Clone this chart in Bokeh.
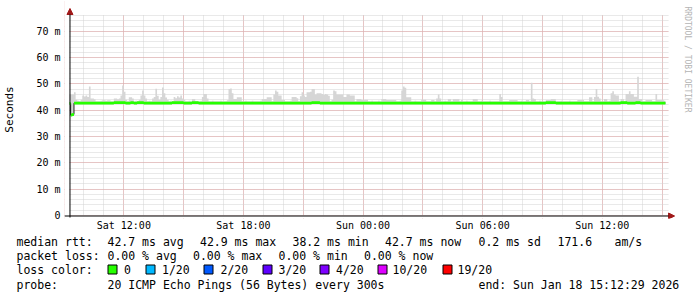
from bokeh.plotting import figure
from bokeh.layouts import column
from bokeh.models import Range1d, FixedTicker, Label, Arrow, NormalHead, BoxAnnotation
from bokeh.core.properties import value
from bokeh.embed import file_html
from bokeh.resources import INLINE
import math

# ---------------- data ----------------
# 5-minute steps, first step starts Sat 09:15 (hours counted from Sat 00:00)
first_step_hour = 9.25
step_hours = 5.0 / 60.0

# median rtt per step (ms)
median_ms = [
    42.6, 38.2, 38.4, 42.7, 42.7, 42.7, 42.7, 42.7, 42.7, 42.7, 42.7, 42.7,
    42.7, 42.7, 42.7, 42.7, 42.7, 42.7, 42.7, 42.7, 42.7, 42.7, 42.7, 42.7,
    42.7, 42.7, 42.7, 42.9, 42.9, 42.9, 42.9, 42.9, 42.9, 42.9, 42.7, 42.7,
    42.7, 42.9, 42.9, 42.7, 42.7, 42.9, 42.9, 42.9, 42.9, 42.7, 42.7, 42.7,
    42.7, 42.7, 42.7, 42.7, 42.7, 42.7, 42.7, 42.7, 42.7, 42.7, 42.7, 42.7,
    42.7, 42.7, 42.9, 42.9, 42.9, 42.9, 42.9, 42.9, 42.9, 42.7, 42.7, 42.7,
    42.7, 42.7, 42.9, 42.9, 42.9, 42.9, 42.7, 42.7, 42.7, 42.7, 42.7, 42.7,
    42.7, 42.7, 42.7, 42.7, 42.7, 42.7, 42.7, 42.7, 42.7, 42.7, 42.7, 42.7,
    42.7, 42.7, 42.7, 42.7, 42.7, 42.7, 42.7, 42.7, 42.7, 42.7, 42.7, 42.7,
    42.7, 42.7, 42.7, 42.7, 42.7, 42.7, 42.7, 42.7, 42.7, 42.7, 42.7, 42.7,
    42.7, 42.7, 42.7, 42.7, 42.7, 42.7, 42.7, 42.7, 42.7, 42.7, 42.7, 42.7,
    42.7, 42.7, 42.7, 42.7, 42.7, 42.7, 42.7, 42.7, 42.7, 42.7, 42.7, 42.7,
    42.7, 42.7, 42.9, 42.9, 42.9, 42.9, 42.9, 42.7, 42.7, 42.7, 42.7, 42.7,
    42.7, 42.7, 42.7, 42.7, 42.7, 42.7, 42.7, 42.7, 42.7, 42.7, 42.7, 42.7,
    42.7, 42.7, 42.7, 42.7, 42.7, 42.7, 42.7, 42.7, 42.7, 42.7, 42.7, 42.7,
    42.7, 42.7, 42.7, 42.7, 42.7, 42.7, 42.7, 42.7, 42.7, 42.7, 42.7, 42.7,
    42.7, 42.7, 42.7, 42.7, 42.7, 42.7, 42.7, 42.7, 42.7, 42.7, 42.7, 42.7,
    42.7, 42.7, 42.7, 42.7, 42.7, 42.7, 42.7, 42.7, 42.7, 42.7, 42.7, 42.7,
    42.7, 42.7, 42.7, 42.7, 42.7, 42.7, 42.7, 42.7, 42.7, 42.7, 42.7, 42.7,
    42.7, 42.7, 42.7, 42.7, 42.7, 42.7, 42.7, 42.7, 42.7, 42.7, 42.7, 42.7,
    42.7, 42.7, 42.7, 42.7, 42.7, 42.7, 42.7, 42.7, 42.7, 42.7, 42.7, 42.7,
    42.7, 42.7, 42.7, 42.7, 42.7, 42.7, 42.7, 42.7, 42.7, 42.7, 42.7, 42.7,
    42.7, 42.7, 42.7, 42.7, 42.7, 42.7, 42.7, 42.7, 42.7, 42.7, 42.7, 42.7,
    42.7, 42.7, 42.7, 42.7, 42.7, 42.7, 42.7, 42.7, 42.7, 42.7, 42.7, 42.9,
    42.9, 42.9, 42.9, 42.9, 42.9, 42.7, 42.7, 42.7, 42.7, 42.7, 42.7, 42.7,
    42.7, 42.7, 42.7, 42.7, 42.7, 42.7, 42.7, 42.7, 42.7, 42.7, 42.7, 42.7,
    42.7, 42.7, 42.7, 42.7, 42.7, 42.7, 42.7, 42.7, 42.7, 42.7, 42.7, 42.7,
    42.7, 42.7, 42.7, 42.7, 42.7, 42.7, 42.7, 42.7, 42.9, 42.9, 42.9, 42.9,
    42.7, 42.7, 42.7, 42.7, 42.7, 42.9, 42.9, 42.9, 42.7, 42.7, 42.7, 42.7,
    42.7, 42.7, 42.7, 42.7, 42.7, 42.7, 42.7, 42.7, 42.7, 42.7, 42.7,
]

# upper edge of the ping "smoke" per step (ms)
smoke_top_ms = [
    46.0, 46.0, 46.0, 46.8, 44.0, 43.6, 43.4, 44.0, 45.6, 45.2, 45.6, 45.0,
    49.0, 44.5, 44.5, 44.2, 43.4, 43.4, 43.4, 43.6, 43.8, 43.8, 43.6, 43.8,
    43.8, 43.4, 43.4, 44.5, 44.5, 44.2, 44.5, 45.6, 49.4, 47.0, 44.0, 43.4,
    44.9, 44.9, 44.5, 43.4, 43.6, 43.4, 44.0, 45.6, 47.5, 45.6, 44.5, 43.4,
    43.6, 43.4, 44.5, 45.0, 48.2, 45.5, 44.0, 45.0, 48.6, 46.5, 44.8, 44.0,
    43.4, 43.6, 43.4, 45.0, 44.6, 45.3, 44.8, 45.6, 44.5, 44.0, 43.4, 43.4,
    43.6, 43.4, 44.3, 44.3, 43.4, 43.4, 43.4, 43.6, 45.0, 46.2, 46.2, 44.5,
    43.4, 43.4, 43.6, 43.4, 43.4, 43.4, 43.4, 43.6, 43.4, 43.4, 43.4, 43.8,
    48.1, 48.3, 46.5, 44.3, 44.3, 44.9, 44.9, 44.9, 43.4, 43.4, 43.6, 43.4,
    43.4, 43.4, 43.6, 43.4, 43.4, 43.4, 43.4, 43.6, 44.3, 44.3, 44.3, 44.9,
    44.9, 44.9, 43.4, 46.0, 47.5, 47.0, 45.6, 45.6, 43.9, 43.9, 43.4, 43.4,
    43.4, 43.6, 45.0, 45.0, 45.0, 44.6, 43.4, 45.3, 46.8, 45.6, 45.0, 46.8,
    46.8, 47.0, 48.1, 48.1, 46.0, 46.5, 46.5, 46.5, 46.2, 45.8, 46.2, 46.0,
    45.5, 43.4, 44.0, 47.5, 47.2, 46.0, 46.0, 46.0, 46.0, 45.0, 45.0, 46.0,
    46.0, 45.6, 45.6, 45.6, 43.4, 44.3, 44.3, 44.3, 43.9, 43.9, 44.0, 44.0,
    43.4, 43.4, 43.6, 43.4, 43.4, 43.4, 43.6, 43.4, 44.3, 44.3, 44.3, 43.9,
    43.9, 43.9, 43.9, 43.9, 43.9, 43.4, 43.4, 43.6, 47.5, 49.0, 48.5, 44.9,
    44.9, 44.9, 43.4, 43.4, 43.6, 43.4, 43.4, 43.4, 44.0, 44.0, 44.0, 43.4,
    43.4, 43.4, 43.9, 43.9, 43.4, 44.5, 46.0, 44.5, 43.4, 43.4, 43.6, 43.4,
    44.3, 44.3, 43.4, 44.3, 44.3, 44.3, 44.3, 43.4, 43.9, 43.4, 43.4, 43.6,
    43.4, 43.4, 43.4, 44.3, 44.3, 44.3, 43.4, 43.4, 43.6, 43.4, 43.4, 43.4,
    43.4, 43.6, 43.4, 43.4, 43.4, 43.4, 43.4, 46.2, 45.0, 43.4, 43.4, 43.4,
    43.4, 43.9, 43.9, 43.9, 43.9, 43.9, 43.4, 43.4, 43.6, 43.4, 43.4, 43.9,
    43.9, 43.4, 50.4, 44.5, 44.3, 43.4, 43.4, 43.6, 43.4, 43.4, 43.4, 43.9,
    43.9, 43.9, 44.3, 44.3, 44.3, 43.4, 43.4, 43.4, 43.6, 43.4, 43.4, 43.4,
    43.4, 43.6, 43.4, 43.4, 43.4, 43.4, 43.9, 43.9, 43.9, 43.9, 43.4, 43.4,
    43.4, 44.9, 44.9, 43.4, 45.0, 48.1, 45.1, 44.5, 43.4, 43.4, 44.3, 44.3,
    43.4, 43.6, 46.5, 47.2, 46.0, 45.6, 45.6, 43.4, 44.3, 44.3, 43.4, 46.2,
    46.2, 47.2, 46.2, 46.2, 45.1, 45.1, 52.7, 44.3, 44.3, 43.4, 43.4, 43.9,
    43.9, 43.9, 43.9, 43.4, 43.4, 46.2, 43.9, 43.9, 43.9, 43.9, 43.6,
]

y_tick_values = [0, 10, 20, 30, 40, 50, 60, 70]
y_tick_labels = ["0", "10 m", "20 m", "30 m", "40 m", "50 m", "60 m", "70 m"]
x_tick_hours = [12, 18, 24, 30, 36]
x_tick_labels = ["Sat 12:00", "Sat 18:00", "Sun 00:00", "Sun 06:00", "Sun 12:00"]

legend_row1 = ["median rtt:", "42.7 ms avg", "42.9 ms max", "38.2 ms min",
               "42.7 ms now", "0.2 ms sd", "171.6", "am/s"]
legend_row2 = ["packet loss:", "0.00 % avg", "0.00 % max", "0.00 % min", "0.00 % now"]
legend_row3_title = "loss color:"
loss_labels = ["0", "1/20", "2/20", "3/20", "4/20", "10/20", "19/20"]
loss_colors = ["#26ff00", "#00b8ff", "#0059ff", "#5e00ff", "#7e00ff", "#dd00ff", "#ff0000"]
legend_row4 = ["probe:", "20 ICMP Echo Pings (56 Bytes) every 300s",
               "end: Sun Jan 18 15:12:29 2026"]
y_title = "Seconds"
watermark = "RRDTOOL / TOBI OETIKER"

# ---------------- geometry / style ----------------
MONO = "DejaVu Sans Mono"
W = 697
MAIN_H = 234           # chart part
LEG_H = 297 - MAIN_H   # legend part
PLOT_L, PLOT_R, PLOT_T, PLOT_B = 67, 667, 15, 215   # plot area in page pixels
FRAME_L, FRAME_T, FRAME_B = 62, 0, 218               # bokeh frame (right = page edge)
PX_PER_H = 20.0
PX_PER_MS = 200.0 / 76.0
X_PLOT_START = 9.275     # Sat ~09:17 (hours from Sat 00:00)


def dx(px):
    return X_PLOT_START + (px - PLOT_L) / PX_PER_H


def dy(py):
    return (PLOT_B - py) / PX_PER_MS


n = len(median_ms)
xs = [first_step_hour + i * step_hours for i in range(n + 1)]
med_ext = median_ms + [median_ms[-1]]
smoke_ext = smoke_top_ms + [smoke_top_ms[-1]]
band_half = 0.55
band_lo = [m - band_half for m in med_ext]
band_hi = [m + band_half for m in med_ext]

chart = figure(width=W, height=MAIN_H, output_backend="svg", toolbar_location=None,
               x_range=Range1d(dx(FRAME_L), dx(W)), y_range=Range1d(dy(FRAME_B), dy(FRAME_T)),
               min_border_left=FRAME_L, min_border_right=0, min_border_top=FRAME_T,
               min_border_bottom=MAIN_H - FRAME_B)
chart.background_fill_color = "white"
chart.border_fill_color = "white"
chart.outline_line_color = None

# grids: minor every 2 ms / 1 h (grey), major every 10 ms / 3 h (red)
chart.xgrid.ticker = FixedTicker(ticks=list(range(9, 40, 3)), minor_ticks=list(range(10, 40)))
chart.ygrid.ticker = FixedTicker(ticks=list(range(0, 71, 10)), minor_ticks=list(range(0, 77, 2)))
for g in (chart.xgrid[0], chart.ygrid[0]):
    g.grid_line_color = "#e2a0a0"
    g.grid_line_dash = "1 1"
    g.grid_line_width = 1
    g.minor_grid_line_color = "#d2d2d2"
    g.minor_grid_line_dash = "1 1"
    g.minor_grid_line_width = 1

# axes (tick labels only; axis lines drawn below with arrow heads)
chart.xaxis.ticker = FixedTicker(ticks=x_tick_hours)
chart.xaxis.major_label_overrides = {h: l for h, l in zip(x_tick_hours, x_tick_labels)}
chart.yaxis.ticker = FixedTicker(ticks=y_tick_values)
chart.yaxis.major_label_overrides = {v: l for v, l in zip(y_tick_values, y_tick_labels)}
for ax in (chart.xaxis[0], chart.yaxis[0]):
    ax.axis_line_color = None
    ax.major_tick_line_color = None
    ax.minor_tick_line_color = None
    ax.major_tick_out = 0
    ax.major_tick_in = 0
    ax.minor_tick_out = 0
    ax.minor_tick_in = 0
    ax.major_label_text_font = MONO
    ax.major_label_text_font_size = "10px"
    ax.major_label_text_color = "#000000"
chart.xaxis.major_label_standoff = 1
chart.yaxis.major_label_standoff = 4
chart.yaxis.axis_label = y_title
chart.yaxis.axis_label_text_font = MONO
chart.yaxis.axis_label_text_font_size = "11px"
chart.yaxis.axis_label_text_font_style = "normal"
chart.yaxis.axis_label_text_color = "#000000"
chart.yaxis.axis_label_standoff = 17

# smoke, median line, loss-coloured band
chart.varea_step(x=xs, y1=med_ext, y2=smoke_ext, step_mode="after",
                 fill_color="#d6d6d6", fill_alpha=1)
chart.step(x=xs, y=med_ext, mode="after", line_color="#202020", line_width=1)
chart.varea_step(x=xs, y1=band_lo, y2=band_hi, step_mode="after",
                 fill_color=loss_colors[0], fill_alpha=1)

# white margins around the plot area (keeps the grid inside it)
mask = dict(fill_color="white", fill_alpha=1, line_color=None, line_alpha=0)
xa, xb = dx(FRAME_L), dx(W)
ya, yb = dy(FRAME_B), dy(FRAME_T)
chart.add_layout(BoxAnnotation(left=xa, right=dx(PLOT_L), bottom=ya, top=yb, **mask))
chart.add_layout(BoxAnnotation(left=xa, right=xb, bottom=dy(PLOT_T - 0.5), top=yb, **mask))
chart.add_layout(BoxAnnotation(left=dx(PLOT_R + 1), right=xb, bottom=ya, top=yb, **mask))
chart.add_layout(BoxAnnotation(left=xa, right=xb, bottom=ya, top=dy(PLOT_B), **mask))

# axis lines with dark red arrow heads
HEAD = "#a01818"
chart.add_layout(Arrow(x_start=dx(PLOT_L + 0.5), y_start=dy(PLOT_B + 2),
                       x_end=dx(PLOT_L + 0.5), y_end=dy(8),
                       line_color="black", line_width=1,
                       end=NormalHead(size=6, fill_color=HEAD, line_color=HEAD, line_width=1)))
chart.add_layout(Arrow(x_start=dx(62), y_start=dy(PLOT_B + 0.5),
                       x_end=dx(674), y_end=dy(PLOT_B + 0.5),
                       line_color="black", line_width=1,
                       end=NormalHead(size=6, fill_color=HEAD, line_color=HEAD, line_width=1)))

# watermark
chart.add_layout(Label(x=dx(687), y=dy(59), text=watermark, angle=-math.pi / 2,
                       text_align="center", text_baseline="middle",
                       text_font=MONO, text_font_size="8px", text_color="#b4b4b4"))

# ---------------- legend part ----------------
leg = figure(width=W, height=LEG_H, output_backend="svg", toolbar_location=None,
             x_range=Range1d(0, W), y_range=Range1d(LEG_H, 0),
             x_axis_location=None, y_axis_location=None,
             min_border_left=0, min_border_right=0, min_border_top=0, min_border_bottom=0)
leg.background_fill_color = "white"
leg.border_fill_color = "white"
leg.outline_line_color = None
leg.xgrid.visible = False
leg.ygrid.visible = False

# do not align the frames of the two parts
for fig in (chart, leg):
    try:
        fig.frame_align = False
    except Exception:
        pass

row_y = [241 - MAIN_H, 255 - MAIN_H, 269 - MAIN_H, 284 - MAIN_H]
row1_x = [16, 107, 199.5, 292, 384.5, 478, 557, 614]
row2_x = [16, 107, 192.5, 278, 363.5]
swatch_x = [107.5, 145.5, 203.5, 262.5, 319.5, 377.5, 442.5]
label_x = [123.5, 161.5, 220, 278, 335.5, 392, 457]
row4_x = [16, 107, 478]

tx, ty, tt = [], [], []
for t, x in zip(legend_row1, row1_x):
    tx.append(x); ty.append(row_y[0]); tt.append(t)
for t, x in zip(legend_row2, row2_x):
    tx.append(x); ty.append(row_y[1]); tt.append(t)
tx.append(16); ty.append(row_y[2]); tt.append(legend_row3_title)
for lab, lx in zip(loss_labels, label_x):
    tx.append(lx); ty.append(row_y[2]); tt.append(lab)
for t, x in zip(legend_row4, row4_x):
    tx.append(x); ty.append(row_y[3]); tt.append(t)

leg.text(x=tx, y=ty, text=tt, text_font=value(MONO), text_font_size="11.5px",
         text_color="#000000", text_baseline="middle", text_align="left")
leg.quad(left=swatch_x, right=[s + 9 for s in swatch_x],
         top=[row_y[2] - 4.5] * len(swatch_x), bottom=[row_y[2] + 4.5] * len(swatch_x),
         fill_color=loss_colors, line_color="#000000", line_width=1)

p = column(chart, leg, spacing=0)
open("out.html", "w").write(file_html(p, INLINE))
